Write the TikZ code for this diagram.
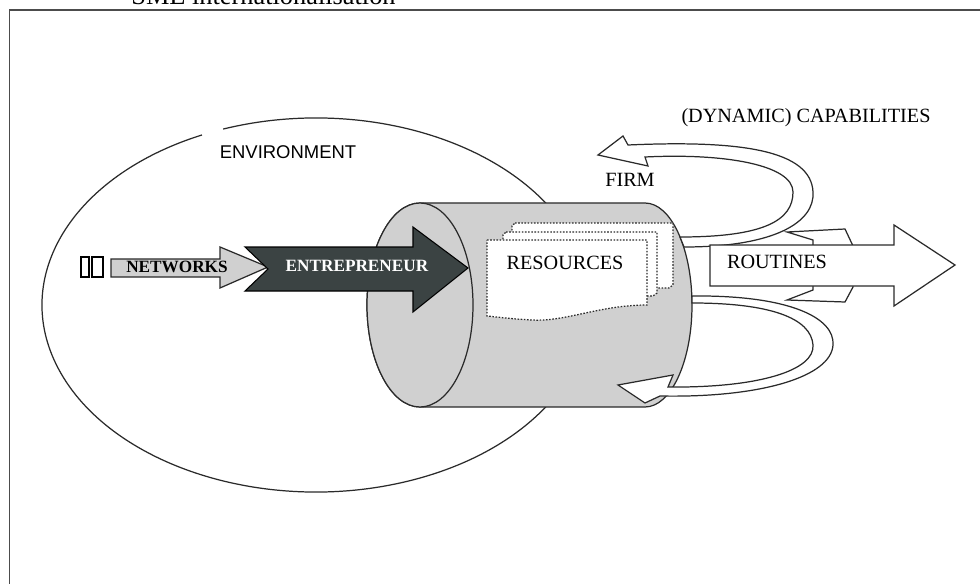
\documentclass[tikz,border=0pt]{standalone}
\usepackage{fontspec}
\setmainfont{Liberation Serif}
\newfontfamily\sansf{Liberation Sans}
\definecolor{cylgray}{HTML}{D0D0D0}
\definecolor{darkarrow}{HTML}{3B4343}
\definecolor{edgec}{HTML}{2A2A2A}
\tikzset{
  edge/.style={draw=edgec, line width=0.7pt},
  pagebox/.style={draw=edgec, fill=white, line width=0.7pt, dash pattern=on 0.9pt off 0.9pt},
  lbl/.style={font=\fontsize{11.5}{13}\selectfont, inner sep=0pt, text=black},
  boldlbl/.style={font=\fontsize{9.8}{12}\selectfont\bfseries, inner sep=0pt},
  bandarrow/.style={draw=edgec, fill=white, line width=0.7pt, line join=miter}
}
\begin{document}
\begin{tikzpicture}[x=0.02cm,y=-0.02cm]
\useasboundingbox (0,0) rectangle (980,584);
\clip (0,0) rectangle (980,584);
\fill[white] (0,0) rectangle (980,584);
% title (cut at top) and frame
\node[anchor=base west, inner sep=0pt, font=\fontsize{15}{17}\selectfont] (title) at (131,4.5) {SME internationalisation};
\draw[gray!60!black, line width=0.9pt] (9.5,600) -- (9.5,10) -- (990,10);
% environment ellipse (small gap at top left)
\draw[edge] (316,305) ++(-109.8:274 and 187) arc[start angle=-109.8, end angle=245.4, x radius=274, y radius=187];
\node[inner sep=0pt, font=\sansf\fontsize{10.5}{12}\selectfont] (env) at (288,152) {ENVIRONMENT};
% cylinder (firm)
\path[edge, fill=cylgray] (420,203) -- (645,203) arc[start angle=-90, end angle=90, x radius=47, y radius=102] -- (420,407) arc[start angle=90, end angle=270, x radius=53, y radius=102] -- cycle;
\path[edge, fill=cylgray] (420,305) ellipse [x radius=53, y radius=102];
% resources pages
\path[pagebox] (515,223) -- (673,223) -- (673,285) -- (669,288) -- (512,288) -- (512,226) -- cycle;
\path[pagebox] (506,232) -- (657,232) -- (657,293) -- (653,296) -- (503,296) -- (503,235) -- cycle;
\path[pagebox] (487,240) -- (647,240) -- (647,305) .. controls (600,305) and (565,322) .. (532,320) .. controls (512,319) and (497,317) .. (487,316) -- cycle;
\node[lbl] (res) at (565,263) {RESOURCES};
% upper curved arrow (dynamic capabilities loop)
\path[bandarrow] (684,247) .. controls (775,247) and (815,222) .. (813,192) .. controls (811,150) and (740,140) .. (628,145) -- (623,136) -- (598,155) -- (648,166) -- (645,157) .. controls (725,153) and (793,165) .. (793,192) .. controls (793,220) and (765,237) .. (680,237) -- cycle;
% lower curved arrow
\path[bandarrow] (692,296) .. controls (790,295) and (835,318) .. (833,345) .. controls (831,377) and (760,398) .. (660,396) -- (645,403) -- (618,385) -- (673,375) -- (668,387) .. controls (760,388) and (815,370) .. (813,345) .. controls (811,318) and (770,303) .. (692,303) -- cycle;
% routines (back plate and arrow)
\path[edge, fill=white] (787,232) -- (845,229) -- (853,246) -- (853,287) -- (845,302) -- (787,300) -- (813,290) -- (813,240) -- cycle;
\path[edge, fill=white] (710,245) -- (894,245) -- (894,225) -- (955,265) -- (894,306) -- (894,286) -- (710,286) -- cycle;
\node[lbl] (rout) at (777,262) {ROUTINES};
% networks
\path[draw=black, line width=0.9pt, fill=white] (81,257) rectangle (89,277);
\path[draw=black, line width=0.9pt, fill=white] (92,257) rectangle (103,277);
\path[edge, fill=cylgray] (111,259) -- (220,259) -- (220,247) -- (268,267) -- (220,288) -- (220,277) -- (111,277) -- cycle;
\node[boldlbl, text=black] (net) at (177,267) {NETWORKS};
% entrepreneur arrow
\path[draw=black, line width=0.6pt, fill=darkarrow] (245,247) -- (413,247) -- (413,227) -- (468,268) -- (413,312) -- (413,291) -- (245,291) -- (268,269) -- cycle;
\node[boldlbl, text=white] (entr) at (357,266) {ENTREPRENEUR};
% labels
\node[lbl] (firm) at (630,180) {FIRM};
\node[lbl] (cap) at (806,118) {(DYNAMIC) CAPABILITIES};
\end{tikzpicture}
\end{document}
